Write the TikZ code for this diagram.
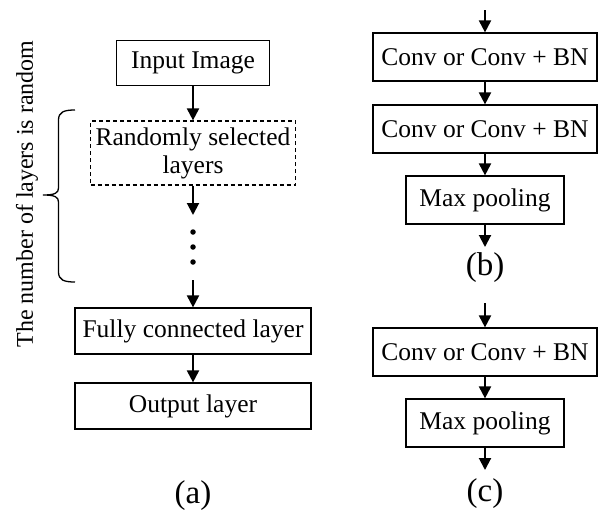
\documentclass[tikz,border=0pt]{standalone}
\usepackage{fontspec}
\setmainfont{Liberation Serif}
\usetikzlibrary{arrows.meta}
\begin{document}
\begin{tikzpicture}[x=1pt,y=-1pt,
  blk/.style={draw,line width=1.2pt,inner sep=0pt,minimum height=46pt,font=\fontsize{25.5}{28}\selectfont},
  dblk/.style={blk,dash pattern=on 4pt off 3pt,align=center},
  arr/.style={line width=2pt,-{Triangle[width=12pt,length=12pt]}},
  lab/.style={font=\fontsize{33}{36}\selectfont,inner sep=0pt},
  dotn/.style={circle,fill,inner sep=0pt,minimum size=5.5pt},
  bracel/.style={line width=1.3pt},
  sidetxt/.style={rotate=90,font=\fontsize{24}{28}\selectfont,inner sep=0pt}]
\useasboundingbox (0,0) rectangle (601,514);
% ---------- (a) ----------
\node[blk,minimum width=153pt,minimum height=45pt] (inp) at (193,63) {Input Image};
\node[dblk,minimum width=205pt,minimum height=64pt] (rnd) at (193,153) {Randomly selected\\layers};
\coordinate (r1) at (193,215);
\node[dotn] (d1) at (193,232) {};
\node[dotn] (d2) at (193,247) {};
\node[dotn] (d3) at (193,262) {};
\coordinate (r2) at (193,280);
\node[blk,minimum width=236pt] (fc) at (193,331) {Fully connected layer};
\node[blk,minimum width=236pt] (out) at (193,406) {Output layer};
\node[lab] (la) at (193,496) {(a)};
\draw[arr] (inp) -- (rnd);
\draw[arr] (rnd) -- (r1);
\draw[arr] (r2) -- (fc);
\draw[arr] (fc) -- (out);
% brace and side text
\draw[bracel] (75,110) .. controls (64,110) and (58.5,112) .. (58.5,120)
  -- (58.5,188) .. controls (58.5,193) and (55,195) .. (43,195)
  .. controls (55,195) and (58.5,197) .. (58.5,202)
  -- (58.5,272) .. controls (58.5,280) and (64,282) .. (75,282);
\node[sidetxt] (side) at (27,194) {The number of layers is random};
% ---------- (b) ----------
\coordinate (bt) at (485,10);
\node[blk,minimum width=224pt,minimum height=48pt] (b1) at (485,57) {Conv or Conv + BN};
\node[blk,minimum width=224pt,minimum height=48pt] (b2) at (485,129) {Conv or Conv + BN};
\node[blk,minimum width=158pt,minimum height=48pt] (b3) at (485,200) {Max pooling};
\coordinate (be) at (485,247);
\node[lab] (lb) at (485,268) {(b)};
\draw[arr] (bt) -- (b1);
\draw[arr] (b1) -- (b2);
\draw[arr] (b2) -- (b3);
\draw[arr] (b3) -- (be);
% ---------- (c) ----------
\coordinate (ct) at (485,303);
\node[blk,minimum width=224pt,minimum height=48pt] (c1) at (485,352) {Conv or Conv + BN};
\node[blk,minimum width=158pt,minimum height=48pt] (c2) at (485,423) {Max pooling};
\coordinate (ce) at (485,470);
\node[lab] (lc) at (485,494) {(c)};
\draw[arr] (ct) -- (c1);
\draw[arr] (c1) -- (c2);
\draw[arr] (c2) -- (ce);
\end{tikzpicture}
\end{document}
